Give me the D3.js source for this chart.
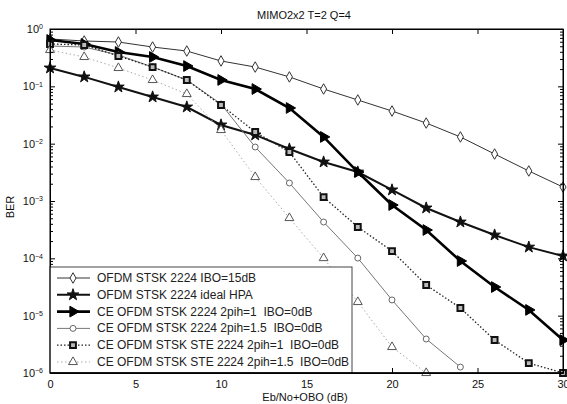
<!DOCTYPE html>
<html>
<head>
<meta charset="utf-8">
<script src="https://d3js.org/d3.v7.min.js"></script>
<style>
body { margin: 0; background: #fff; font-family: "Liberation Sans", Arial, sans-serif; }
svg { display: block; }
.axis path, .axis line { stroke: #000; }
.axis text { font-family: "Liberation Sans", Arial, sans-serif; font-size: 11px; fill: #111; }
.leg { white-space: pre; }
</style>
</head>
<body>
<svg width="567" height="404"></svg>
<script>
// x positions (Eb/No+OBO, dB)
var ebno = [0, 2, 4, 6, 8, 10, 12, 14, 16, 18, 20, 22, 24, 26, 28, 30];

// BER
var berIbo15   = [0.669, 0.618, 0.593, 0.485, 0.413, 0.277, 0.217, 0.146, 0.0898, 0.0578, 0.0371, 0.0229, 0.0131, 0.0066, 0.00334, 0.00175];
var berIdeal   = [0.209, 0.146, 0.0973, 0.0652, 0.0436, 0.0212, 0.0142, 0.00807, 0.00479, 0.0032, 0.00156, 0.000755, 0.00043, 0.000255, 0.000157, 0.00011];
var berH1      = [0.643, 0.548, 0.397, 0.325, 0.226, 0.129, 0.0898, 0.0419, 0.0131, 0.0032, 0.000851, 0.000312, 8.98e-5, 3.16e-5, 1.26e-5, 3.76e-6];
var berH15     = [0.505, 0.485, 0.352, 0.217, 0.129, 0.0492, 0.00874, 0.00206, 0.00043, 0.000101, 1.88e-5, 3.92e-6, 1.27e-6];
var berSteH1   = [0.548, 0.526, 0.338, 0.217, 0.129, 0.0472, 0.016, 0.00716, 0.00117, 0.000352, 0.000134, 3.43e-5, 1.36e-5, 3.76e-6, 1.49e-6, 1.0e-6];
var berSteH15  = [0.43, 0.325, 0.209, 0.129, 0.0735, 0.0173, 0.00262, 0.000505, 0.000101, 1.73e-5, 2.84e-6, 1.0e-6];

var legendLabels = [
  "OFDM STSK 2224 IBO=15dB",
  "OFDM STSK 2224 ideal HPA",
  "CE OFDM STSK 2224 2pih=1  IBO=0dB",
  "CE OFDM STSK 2224 2pih=1.5  IBO=0dB",
  "CE OFDM STSK STE 2224 2pih=1  IBO=0dB",
  "CE OFDM STSK STE 2224 2pih=1.5  IBO=0dB"
];
var xTicks = [0, 5, 10, 15, 20, 25, 30];
var yTicks = [1e-6, 1e-5, 1e-4, 1e-3, 1e-2, 1e-1, 1];

var svg = d3.select("svg");
var pL = 50, pR = 563, pT = 29, pB = 373;

var x = d3.scaleLinear().domain([0, 30]).range([pL, pR]);
var y = d3.scaleLog().domain([1e-6, 1]).range([pB, pT]);

// minor ticks on the log axis
var yMinor = [];
for (var e = -6; e < 0; e++) {
  for (var m = 2; m <= 9; m++) yMinor.push(m * Math.pow(10, e));
}

svg.append("defs").append("clipPath").attr("id", "plotclip")
  .append("rect").attr("x", pL).attr("y", pT)
  .attr("width", pR - pL).attr("height", pB - pT);

// series styles
var series = [
  { vals: berIbo15,  stroke: "#333", width: 1,   dash: null,      sym: d3.symbolDiamond,  size: 32, rot: 0,  fill: "#fff", mstroke: "#333", mw: 1 },
  { vals: berIdeal,  stroke: "#111", width: 2,   dash: null,      sym: d3.symbolStar,     size: 42, rot: 0,  fill: "#111", mstroke: "#111", mw: 1 },
  { vals: berH1,     stroke: "#000", width: 2.6, dash: null,      sym: d3.symbolTriangle, size: 50, rot: 90, fill: "#000", mstroke: "#000", mw: 1 },
  { vals: berH15,    stroke: "#777", width: 1,   dash: null,      sym: d3.symbolCircle,   size: 28, rot: 0,  fill: "#fff", mstroke: "#666", mw: 1 },
  { vals: berSteH1,  stroke: "#222", width: 1.3, dash: "1.5,2",   sym: d3.symbolSquare,   size: 34, rot: 0,  fill: "#bbb", mstroke: "#111", mw: 2 },
  { vals: berSteH15, stroke: "#aaa", width: 1,   dash: "1.5,2.5", sym: d3.symbolTriangle, size: 34, rot: 0,  fill: "#fff", mstroke: "#555", mw: 1 }
];

var line = d3.line()
  .x(function (d) { return x(d[0]); })
  .y(function (d) { return y(d[1]); });

series.forEach(function (s) {
  var pts = s.vals.map(function (v, i) { return [ebno[i], v]; });
  svg.append("path")
    .attr("d", line(pts))
    .attr("clip-path", "url(#plotclip)")
    .attr("fill", "none")
    .attr("stroke", s.stroke)
    .attr("stroke-width", s.width)
    .attr("stroke-dasharray", s.dash);
  svg.selectAll(null).data(pts).enter().append("path")
    .attr("d", d3.symbol().type(s.sym).size(s.size))
    .attr("transform", function (d) { return "translate(" + x(d[0]) + "," + y(d[1]) + ") rotate(" + s.rot + ")"; })
    .attr("fill", s.fill)
    .attr("stroke", s.mstroke)
    .attr("stroke-width", s.mw);
});

// axes: ticks point inward, box all round
function supFormat(sel) {
  sel.selectAll(".tick text").each(function (d) {
    var t = d3.select(this);
    var ex = Math.round(Math.log10(d));
    t.text("10");
    t.append("tspan").attr("dy", "-0.55em").attr("font-size", "7px")
      .text(ex === 0 ? "0" : String(ex).replace("-", "\u2212"));
  });
}

svg.append("g").attr("class", "axis").attr("transform", "translate(0," + pB + ")")
  .call(d3.axisBottom(x).tickValues(xTicks).tickFormat(d3.format("d")).tickSizeInner(-5).tickSizeOuter(0).tickPadding(7));
svg.append("g").attr("class", "axis").attr("transform", "translate(0," + pT + ")")
  .call(d3.axisTop(x).tickValues(xTicks).tickFormat("").tickSizeInner(-5).tickSizeOuter(0));

svg.append("g").attr("class", "axis").attr("transform", "translate(" + pL + ",0)")
  .call(d3.axisLeft(y).tickValues(yTicks).tickSizeInner(-5).tickSizeOuter(0).tickPadding(7))
  .call(supFormat);
svg.append("g").attr("class", "axis").attr("transform", "translate(" + pL + ",0)")
  .call(d3.axisLeft(y).tickValues(yMinor).tickFormat("").tickSizeInner(-3).tickSizeOuter(0));
svg.append("g").attr("class", "axis").attr("transform", "translate(" + pR + ",0)")
  .call(d3.axisRight(y).tickValues(yTicks).tickFormat("").tickSizeInner(-5).tickSizeOuter(0));
svg.append("g").attr("class", "axis").attr("transform", "translate(" + pR + ",0)")
  .call(d3.axisRight(y).tickValues(yMinor).tickFormat("").tickSizeInner(-3).tickSizeOuter(0));

// legend
var lg = svg.append("g");
lg.append("rect").attr("x", pL).attr("y", 267).attr("width", 302).attr("height", pB - 267)
  .attr("fill", "#fff").attr("stroke", "#444").attr("stroke-width", 1);
legendLabels.forEach(function (lab, i) {
  var s = series[i], ly = 278 + i * 16.8;
  lg.append("line").attr("x1", 57).attr("x2", 90).attr("y1", ly).attr("y2", ly)
    .attr("stroke", s.stroke).attr("stroke-width", s.width).attr("stroke-dasharray", s.dash);
  lg.append("path").attr("d", d3.symbol().type(s.sym).size(s.size))
    .attr("transform", "translate(73," + ly + ") rotate(" + s.rot + ")")
    .attr("fill", s.fill).attr("stroke", s.mstroke).attr("stroke-width", s.mw);
  lg.append("text").attr("class", "leg").attr("x", 97).attr("y", ly + 4)
    .attr("font-size", "12px").attr("fill", "#222").text(lab);
});

// bottom axis line again over the legend border
svg.append("line").attr("x1", pL).attr("x2", pR).attr("y1", pB).attr("y2", pB)
  .attr("stroke", "#000").attr("stroke-width", 1.5);

// frame
svg.append("rect").attr("x", pL).attr("y", pT).attr("width", pR - pL).attr("height", pB - pT)
  .attr("fill", "none").attr("stroke", "#000").attr("stroke-width", 1);

// titles
svg.append("text").attr("x", 304).attr("y", 19).attr("text-anchor", "middle")
  .attr("font-size", "11px").attr("fill", "#111").text("MIMO2x2 T=2 Q=4");
svg.append("text").attr("x", 305).attr("y", 401).attr("text-anchor", "middle")
  .attr("font-size", "11px").attr("fill", "#111").text("Eb/No+OBO (dB)");
svg.append("text").attr("transform", "translate(14,207) rotate(-90)").attr("text-anchor", "middle")
  .attr("font-size", "11px").attr("fill", "#111").text("BER");
</script>
</body>
</html>
